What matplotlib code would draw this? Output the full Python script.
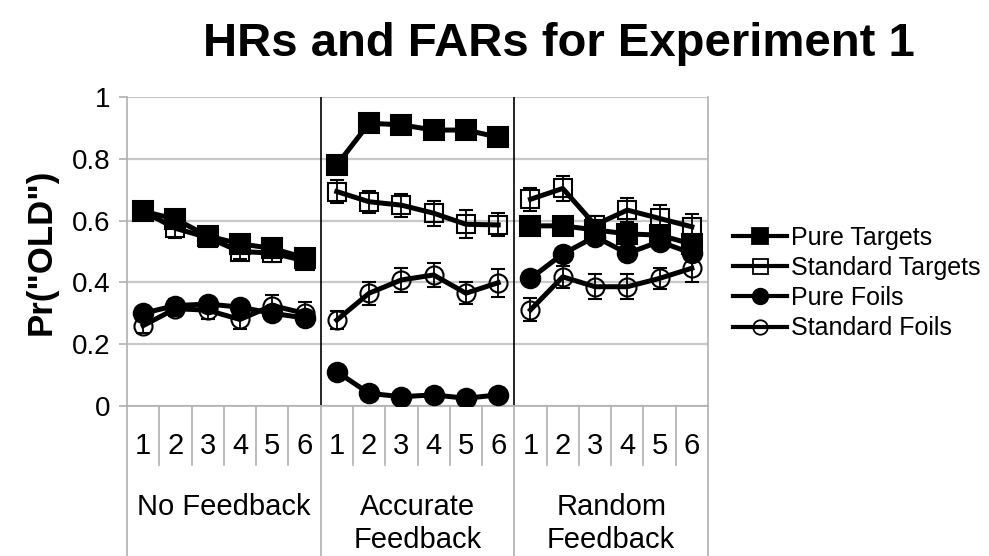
import matplotlib.pyplot as plt
from matplotlib.lines import Line2D
import numpy as np

plt.rcParams['font.family'] = ['Liberation Sans', 'DejaVu Sans']

# hit / false-alarm rates per block, three feedback conditions x 6 blocks
conditions = ['No Feedback', 'Accurate\nFeedback', 'Random\nFeedback']
blocks = ['1', '2', '3', '4', '5', '6']

pure_targets = [[0.63, 0.605, 0.55, 0.525, 0.51, 0.48],
                [0.78, 0.915, 0.91, 0.893, 0.893, 0.87],
                [0.583, 0.583, 0.57, 0.557, 0.553, 0.524]]
pure_targets_err = [[0.02, 0.02, 0.02, 0.02, 0.02, 0.02],
                    [0.02, 0.02, 0.02, 0.025, 0.025, 0.03],
                    [0.02, 0.02, 0.02, 0.02, 0.02, 0.02]]

std_targets = [[0.63, 0.575, 0.545, 0.50, 0.495, 0.47],
               [0.694, 0.661, 0.65, 0.624, 0.588, 0.586],
               [0.669, 0.704, 0.586, 0.634, 0.607, 0.58]]
std_targets_err = [[0.02, 0.03, 0.025, 0.025, 0.03, 0.02],
                   [0.037, 0.035, 0.037, 0.04, 0.045, 0.037],
                   [0.037, 0.04, 0.03, 0.04, 0.045, 0.04]]

pure_foils = [[0.30, 0.325, 0.33, 0.32, 0.30, 0.285],
              [0.111, 0.041, 0.03, 0.036, 0.025, 0.036],
              [0.413, 0.492, 0.548, 0.494, 0.532, 0.494]]
pure_foils_err = [[0.02, 0.02, 0.02, 0.02, 0.02, 0.02],
                  [0.01, 0.01, 0.01, 0.01, 0.01, 0.01],
                  [0.02, 0.02, 0.02, 0.02, 0.02, 0.02]]

std_foils = [[0.26, 0.315, 0.31, 0.28, 0.325, 0.30],
             [0.278, 0.365, 0.408, 0.424, 0.365, 0.399],
             [0.311, 0.418, 0.386, 0.386, 0.413, 0.446]]
std_foils_err = [[0.025, 0.025, 0.03, 0.03, 0.035, 0.035],
                 [0.03, 0.037, 0.04, 0.04, 0.035, 0.045],
                 [0.037, 0.035, 0.04, 0.04, 0.035, 0.045]]

series = [
    ('Pure Targets', pure_targets, pure_targets_err, 's', 'black', 14.5, 4),
    ('Standard Targets', std_targets, std_targets_err, 's', 'none', 13.5, 2),
    ('Pure Foils', pure_foils, pure_foils_err, 'o', 'black', 14, 3),
    ('Standard Foils', std_foils, std_foils_err, 'o', 'none', 13, 1),
]

fig = plt.figure(figsize=(9.89, 5.56), dpi=100)
ax = fig.add_axes([127 / 989, 150 / 556, 581 / 989, 309 / 556])

nb = len(blocks)
handles = []
for name, vals, errs, mk, fc, ms, z in series:
    for g in range(len(conditions)):
        x = np.arange(nb) + g * nb
        ax.errorbar(x, vals[g], yerr=errs[g], color='black', lw=3.6,
                    marker=mk, ms=ms, mfc=fc, mec='black', mew=1.5,
                    ecolor='black', elinewidth=1.3, capsize=5,
                    capthick=1.3, zorder=z)
    handles.append(Line2D([], [], color='black', lw=3, marker=mk,
                          ms=ms * 0.8, mfc=fc, mec='black', mew=1.3))

ax.set_xlim(-0.5, len(conditions) * nb - 0.5)
ax.set_ylim(0, 1)
ax.set_yticks([0, 0.2, 0.4, 0.6, 0.8, 1])
ax.set_yticklabels(['0', '0.2', '0.4', '0.6', '0.8', '1'], fontsize=20)
ax.set_xticks([])
ax.tick_params(axis='y', length=6, width=1.2, color='#b0b0b0', pad=6)
ax.yaxis.grid(True, color='#c8c8c8', lw=1.6, zorder=0)
ax.set_axisbelow(True)
for side in ['left', 'bottom', 'right']:
    ax.spines[side].set_color('#b0b0b0')
    ax.spines[side].set_linewidth(1.2)
ax.spines['top'].set_visible(False)

# panel dividers
for b in [nb - 0.5, 2 * nb - 0.5]:
    ax.axvline(b, color='black', lw=1.2, zorder=1)

# category axis below the plot
xt = ax.get_xaxis_transform()
for i in range(len(conditions) * nb + 1):
    bottom = -0.49 if i % nb == 0 else -0.19
    ax.plot([i - 0.5, i - 0.5], [0, bottom], color='#b0b0b0', lw=1.2,
            transform=xt, clip_on=False)
for g, cond in enumerate(conditions):
    for j, b in enumerate(blocks):
        ax.text(g * nb + j, -0.13, b, transform=xt, ha='center',
                va='center', fontsize=21)
    ax.text(g * nb + (nb - 1) / 2, -0.282, cond, transform=xt, ha='center',
            va='top', fontsize=21, linespacing=1.2)

ax.set_ylabel('Pr("OLD")', fontsize=25, fontweight='bold', labelpad=10)
fig.text(0.565, 1 - 44 / 556, 'HRs and FARs for Experiment 1', fontsize=34,
         fontweight='bold', ha='center', va='center')

ax.legend(handles, [s[0] for s in series], loc='center left',
          bbox_to_anchor=(1.026, 0.398), frameon=False, fontsize=18,
          handlelength=2.15, handletextpad=0.15, labelspacing=0.25,
          borderaxespad=0)

fig.savefig('out.png', dpi=100)
